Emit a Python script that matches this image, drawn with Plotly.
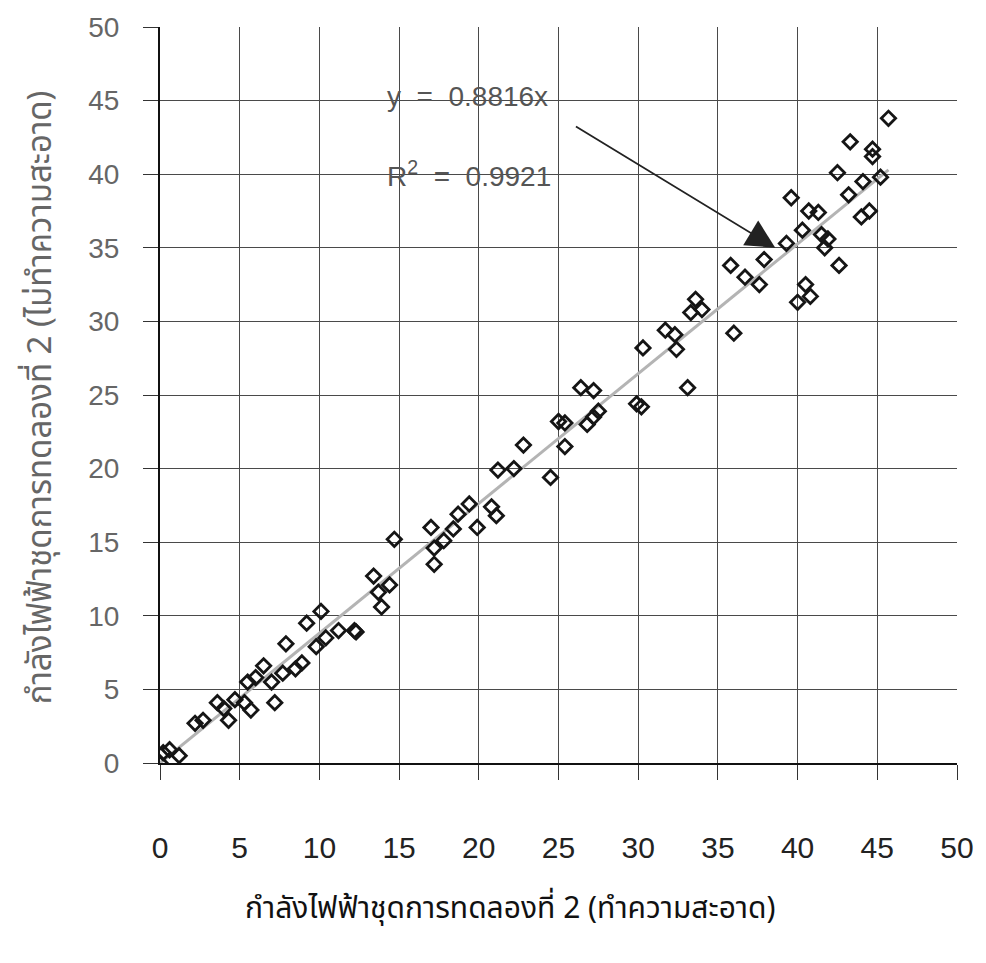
import plotly.graph_objects as go

# Data
x_clean = [0.0, 0.2, 0.6, 1.2, 2.2, 2.7, 3.6, 4.0, 4.3, 4.7, 5.3, 5.5, 5.7, 6.0, 6.5, 7.0,
           7.2, 7.7, 7.9, 8.5, 8.9, 9.2, 9.8, 10.1, 10.4, 11.2, 12.2, 12.3, 13.4, 13.7,
           13.9, 14.4, 14.7, 17.0, 17.2, 17.2, 17.8, 18.4, 18.7, 19.4, 19.9, 20.8, 21.1,
           21.2, 22.2, 22.8, 24.5, 25.0, 25.4, 25.4, 26.4, 26.8, 27.2, 27.2, 27.5, 29.9,
           30.2, 30.3, 31.7, 32.3, 32.4, 33.1, 33.3, 33.6, 34.0, 35.8, 36.0, 36.7, 37.6,
           37.9, 39.3, 39.6, 40.0, 40.3, 40.5, 40.7, 40.8, 41.3, 41.5, 41.7, 41.9, 42.5,
           42.6, 43.2, 43.3, 44.0, 44.1, 44.5, 44.7, 44.7, 45.2, 45.7]
y_dirty = [0.0, 0.7, 0.9, 0.5, 2.7, 2.9, 4.1, 3.7, 2.9, 4.3, 4.1, 5.5, 3.6, 5.8, 6.6, 5.5,
           4.1, 6.1, 8.1, 6.4, 6.8, 9.5, 7.9, 10.3, 8.5, 9.0, 9.0, 8.9, 12.7, 11.6,
           10.6, 12.1, 15.2, 16.0, 14.6, 13.5, 15.1, 15.9, 16.9, 17.6, 16.0, 17.4, 16.8,
           19.9, 20.0, 21.6, 19.4, 23.2, 21.5, 23.1, 25.5, 23.0, 25.3, 23.5, 23.9, 24.4,
           24.2, 28.2, 29.4, 29.1, 28.1, 25.5, 30.6, 31.5, 30.8, 33.8, 29.2, 33.0, 32.5,
           34.2, 35.3, 38.4, 31.3, 36.2, 32.5, 37.5, 31.7, 37.4, 35.9, 35.0, 35.6, 40.1,
           33.8, 38.6, 42.2, 37.1, 39.5, 37.5, 41.7, 41.2, 39.8, 43.8]

slope = 0.8816
r_squared = 0.9921
tick_vals = [0, 5, 10, 15, 20, 25, 30, 35, 40, 45, 50]
tick_text = ["0", "5", "10", "15", "20", "25", "30", "35", "40", "45", "50"]

x_title = "กำลังไฟฟ้าชุดการทดลองที่ 2 (ทำความสะอาด)"
y_title = "กำลังไฟฟ้าชุดการทดลองที่ 2 (ไม่ทำความสะอาด)"

trend_x = [0, max(x_clean)]
trend_y = [slope * v for v in trend_x]

thai_font = "Noto Sans Thai, Loma, Garuda, Norasi, Tlwg Typo, Liberation Sans Narrow, sans-serif"
nb = "\u00a0"

fig = go.Figure()
fig.add_trace(go.Scatter(
    x=trend_x, y=trend_y, mode="lines",
    line=dict(color="#b4b4b4", width=3), hoverinfo="skip", showlegend=False))
fig.add_trace(go.Scatter(
    x=x_clean, y=y_dirty, mode="markers",
    marker=dict(symbol="diamond-open", size=11, color="#151515", line=dict(width=2.8, color="#151515")),
    showlegend=False))

fig.add_annotation(x=14.13, y=45.3, xref="x", yref="y", xanchor="left", yanchor="middle",
                   text=f"y{nb*2}={nb*2}{slope}x", showarrow=False,
                   font=dict(family="Liberation Sans, Arial, sans-serif", size=28, color="#555"))
fig.add_annotation(x=14.13, y=40.0, xref="x", yref="y", xanchor="left", yanchor="middle",
                   text=f"R<sup>2</sup>{nb*2}={nb*2}{r_squared}", showarrow=False,
                   font=dict(family="Liberation Sans, Arial, sans-serif", size=28, color="#555"))
fig.add_annotation(x=38.6, y=35.0, ax=26.0, ay=43.3, xref="x", yref="y", axref="x", ayref="y",
                   text="", showarrow=True, arrowhead=2, arrowsize=3.2, arrowwidth=1.8,
                   arrowcolor="#222")

# axis titles as annotations (paper coordinates)
fig.add_annotation(x=0.44, y=-0.232, xref="paper", yref="paper", text=x_title, showarrow=False,
                   font=dict(family=thai_font, size=30, color="#111"))
fig.add_annotation(x=-0.183, y=0.497, xref="paper", yref="paper", text=y_title, showarrow=False,
                   textangle=-90, font=dict(family=thai_font, size=33, color="#666"))

fig.update_xaxes(range=[0, 50], tickvals=tick_vals, ticktext=tick_text,
                 showgrid=True, gridcolor="#4a4a4a", gridwidth=1,
                 showline=True, linecolor="#111", linewidth=2, mirror=False,
                 ticks="outside", ticklen=15, tickcolor="#333", tickwidth=1,
                 ticklabelstandoff=42, zeroline=False,
                 tickfont=dict(family="Liberation Sans Narrow, Arial Narrow, Liberation Sans, sans-serif",
                               size=30, color="#222"))
fig.update_yaxes(range=[0, 50], tickvals=tick_vals, ticktext=tick_text,
                 showgrid=True, gridcolor="#4a4a4a", gridwidth=1,
                 showline=True, linecolor="#111", linewidth=2, mirror=False,
                 ticks="outside", ticklen=15, tickcolor="#333", tickwidth=1,
                 ticklabelstandoff=18, zeroline=False,
                 tickfont=dict(family="Liberation Sans, Arial, sans-serif", size=28, color="#666"))

fig.update_layout(width=986, height=963, margin=dict(l=160, r=19, t=24, b=200),
                  plot_bgcolor="white", paper_bgcolor="white")

fig.write_html("out.html")
